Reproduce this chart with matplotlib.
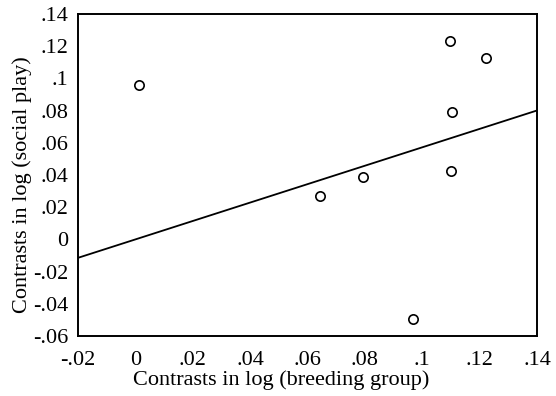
import matplotlib
matplotlib.use("Agg")
import matplotlib.pyplot as plt
import numpy as np
from matplotlib.ticker import FuncFormatter

plt.rcParams["font.family"] = ["Liberation Serif", "DejaVu Serif"]

# contrasts
breeding_group = [0.0013, 0.1096, 0.1221, 0.1105, 0.1099, 0.0793, 0.0642, 0.0969]
social_play = [0.0959, 0.1232, 0.1127, 0.0789, 0.0423, 0.0386, 0.0270, -0.0496]

# regression through origin
slope = 0.572

x_ticks = [-0.02, 0, 0.02, 0.04, 0.06, 0.08, 0.1, 0.12, 0.14]
y_ticks = [-0.06, -0.04, -0.02, 0, 0.02, 0.04, 0.06, 0.08, 0.1, 0.12, 0.14]


def short_fmt(v, pos):
    s = "%g" % round(v, 4)
    if s.startswith("0."):
        s = s[1:]
    elif s.startswith("-0."):
        s = "-" + s[2:]
    return s


fig = plt.figure(figsize=(5.56, 3.96), dpi=100)
ax = fig.add_axes([0.1403, 0.1515, 0.8255, 0.8131])

ax.scatter(breeding_group, social_play, s=45, facecolors="white",
           edgecolors="black", linewidths=1.2, zorder=3)

xl = np.array([x_ticks[0], x_ticks[-1]])
ax.plot(xl, slope * xl, color="black", lw=1.3)

ax.set_xlim(x_ticks[0], x_ticks[-1])
ax.set_ylim(y_ticks[0], y_ticks[-1])
ax.set_xticks(x_ticks)
ax.set_yticks(y_ticks)
ax.xaxis.set_major_formatter(FuncFormatter(short_fmt))
ax.yaxis.set_major_formatter(FuncFormatter(short_fmt))
ax.tick_params(length=0, labelsize=16)
ax.tick_params(axis="y", pad=7)
ax.tick_params(axis="x", pad=11)

for sp in ax.spines.values():
    sp.set_linewidth(1.4)

ax.set_xlabel("Contrasts in log (breeding group)", fontsize=16, labelpad=0, x=0.442)
ax.set_ylabel("Contrasts in log (social play)", fontsize=16, labelpad=1, y=0.469)

fig.savefig("out.png", dpi=100)
